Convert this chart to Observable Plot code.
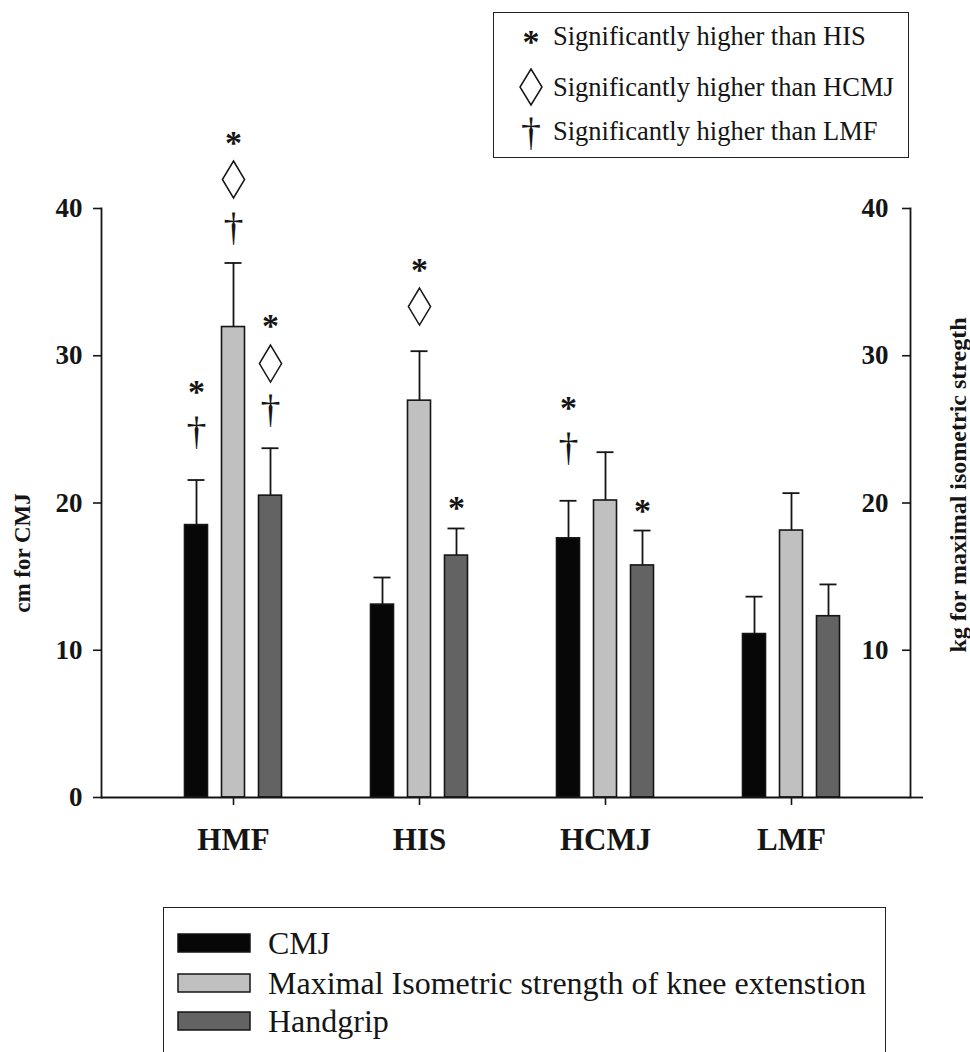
<!DOCTYPE html>
<html>
<head>
<meta charset="utf-8">
<script src="https://cdn.jsdelivr.net/npm/d3@7"></script>
<script src="https://cdn.jsdelivr.net/npm/@observablehq/plot@0.6"></script>
<style>
  body { margin: 0; background: #fff; }
  #wrap { position: relative; width: 970px; height: 1052px; overflow: hidden; background: #fff;
          font-family: "Liberation Serif", "Times New Roman", serif; color: #151515; }
  #chart { position: absolute; left: 0; top: 0; }
  .box { position: absolute; border: 1.5px solid #222; background: #fff; box-sizing: border-box; }
  .box svg { display: block; }
  .ytitle { position: absolute; white-space: nowrap; font-weight: bold; transform: translate(-50%, -50%) rotate(-90deg); line-height: 1; }
</style>
</head>
<body>
<div id="wrap">
  <div id="chart"></div>
  <div id="ltitle" class="ytitle" style="left:22px; top:553px; font-size:23px;"></div>
  <div id="rtitle" class="ytitle" style="left:958px; top:485px; font-size:24px;"></div>
  <div id="sig" class="box" style="left:493px; top:12px; width:416px; height:146px;"></div>
  <div id="leg" class="box" style="left:163px; top:907px; width:723px; height:170px;"></div>
</div>
<script>
// ---------- data ----------
const categories = ["HMF", "HIS", "HCMJ", "LMF"];
const seriesNames = ["CMJ", "Maximal Isometric strength of knee extenstion", "Handgrip"];
const seriesColors = ["#070707", "#c0c0c0", "#636363"];
const cmjMean  = [18.5, 13.1, 17.6, 11.1];
const cmjSE    = [3.06, 1.84, 2.55, 2.54];
const kneeMean = [31.95, 26.95, 20.17, 18.13];
const kneeSE   = [4.35, 3.36, 3.28, 2.54];
const gripMean = [20.5, 16.43, 15.76, 12.31];
const gripSE   = [3.22, 1.84, 2.37, 2.16];
const yTicksLeft = [0, 10, 20, 30, 40];
const yTicksRight = [10, 20, 30, 40];
const leftTitle = "cm for CMJ";
const rightTitle = "kg for maximal isometric stregth";

// significance markers: group, series index, kind, level (value units)
const sigGroup  = ["HMF","HMF","HMF","HMF","HMF","HMF","HMF","HMF","HIS","HIS","HIS","HCMJ","HCMJ","HCMJ"];
const sigSeries = [0, 0, 1, 1, 1, 2, 2, 2, 1, 1, 2, 0, 0, 2];
const sigKind   = ["star","dagger","star","diamond","dagger","star","diamond","dagger","star","diamond","star","star","dagger","star"];
const sigLevel  = [28.1, 24.8, 44.96, 41.97, 38.64, 32.53, 29.47, 26.28, 36.33, 33.34, 20.17, 26.96, 23.7, 19.97];
const sigKinds  = ["star", "diamond", "dagger"];
const sigLabels = ["Significantly higher than HIS", "Significantly higher than HCMJ", "Significantly higher than LMF"];

// ---------- build tables ----------
const means = [cmjMean, kneeMean, gripMean];
const ses = [cmjSE, kneeSE, gripSE];
const rows = [];
categories.forEach((g, i) => seriesNames.forEach((s, j) =>
  rows.push({group: g, s: j, mean: means[j][i], top: means[j][i] + ses[j][i]})));
const sig = sigGroup.map((g, k) => ({group: g, s: sigSeries[k], kind: sigKind[k], level: sigLevel[k]}));

const offs = [-37, 0, 37];
const step = 186, barW = 23, capW = 17;
const ink = "#151515";

const tallDiamond = {
  draw(ctx, size) {
    const r = Math.sqrt(size / Math.PI);
    ctx.moveTo(0, -r); ctx.lineTo(r * 0.6, 0); ctx.lineTo(0, r); ctx.lineTo(-r * 0.6, 0); ctx.closePath();
  }
};

const marks = [];
seriesNames.forEach((name, j) => {
  const d = rows.filter(r => r.s === j);
  marks.push(Plot.ruleX(d, {x: "group", y1: "mean", y2: "top", dx: offs[j], stroke: ink, strokeWidth: 1.8}));
  marks.push(Plot.tickY(d, {x: "group", y: "top", dx: offs[j], stroke: ink, strokeWidth: 1.8,
    insetLeft: (step - capW) / 2, insetRight: (step - capW) / 2}));
  marks.push(Plot.barY(d, {x: "group", y: "mean", dx: offs[j], fill: seriesColors[j], stroke: ink, strokeWidth: 1.6,
    insetLeft: (step - barW) / 2, insetRight: (step - barW) / 2}));
  const sg = sig.filter(q => q.s === j);
  marks.push(Plot.text(sg.filter(q => q.kind === "star"), {x: "group", y: "level", text: () => "*", dx: offs[j], dy: 8,
    fontSize: 34, fontWeight: "bold", fill: ink}));
  marks.push(Plot.text(sg.filter(q => q.kind === "dagger"), {x: "group", y: "level", text: () => "\u2020", dx: offs[j], dy: -1,
    fontSize: 40, fill: ink}));
  marks.push(Plot.dot(sg.filter(q => q.kind === "diamond"), {x: "group", y: "level", dx: offs[j], r: 18.5, symbol: tallDiamond,
    fill: "white", stroke: ink, strokeWidth: 1.5}));
});

const chart = Plot.plot({
  width: 970, height: 880,
  marginLeft: 101, marginRight: 60, marginTop: 208, marginBottom: 83,
  x: {type: "band", domain: categories, range: [140, 884], padding: 0},
  y: {domain: [0, 40]},
  style: {fontFamily: "'Liberation Serif', 'Times New Roman', serif", background: "white", color: ink, overflow: "visible"},
  marks: [
    Plot.frame({anchor: "left", stroke: ink, strokeWidth: 1.8}),
    Plot.frame({anchor: "right", stroke: ink, strokeWidth: 1.8}),
    Plot.axisY({anchor: "left", ticks: yTicksLeft, tickSize: 8, tickPadding: 11, label: null,
      fontSize: 27, fontWeight: "bold", strokeWidth: 1.6}),
    Plot.axisY({anchor: "left", dx: 809, ticks: yTicksRight, tickSize: 8, tickPadding: 14, label: null,
      fontSize: 27, fontWeight: "bold", strokeWidth: 1.6}),
    Plot.axisY({anchor: "right", ticks: [0], tickSize: 12, tickFormat: () => "", label: null, strokeWidth: 1.8}),
    Plot.axisX({tickSize: 8, tickPadding: 22, label: null, fontSize: 31, fontWeight: "bold", strokeWidth: 1.6}),
    ...marks,
    Plot.ruleY([0], {stroke: ink, strokeWidth: 2})
  ]
});
document.getElementById("chart").appendChild(chart);
document.getElementById("ltitle").textContent = leftTitle;
document.getElementById("rtitle").textContent = rightTitle;

// ---------- significance legend ----------
const NS = "http://www.w3.org/2000/svg";
function el(tag, attrs, parent) {
  const e = document.createElementNS(NS, tag);
  for (const k in attrs) e.setAttribute(k, attrs[k]);
  parent.appendChild(e);
  return e;
}
{
  const svg = el("svg", {width: 413, height: 143}, document.getElementById("sig"));
  const rowsY = [23, 74, 118];
  sigKinds.forEach((k, i) => {
    const cy = rowsY[i];
    if (k === "star") {
      const t = el("text", {x: 37, y: cy + 17, "text-anchor": "middle", "font-size": 34, "font-weight": "bold", fill: ink,
        "font-family": "Liberation Serif"}, svg);
      t.textContent = "*";
    } else if (k === "diamond") {
      el("path", {d: `M37,${cy - 18}L48,${cy}L37,${cy + 18}L26,${cy}Z`, fill: "white", stroke: ink, "stroke-width": 1.5}, svg);
    } else {
      const t = el("text", {x: 37, y: cy + 14, "text-anchor": "middle", "font-size": 40, fill: ink,
        "font-family": "Liberation Serif"}, svg);
      t.textContent = "\u2020";
    }
    const t = el("text", {x: 59, y: cy + 9, "font-size": 26.5, fill: ink, "font-family": "Liberation Serif"}, svg);
    t.textContent = sigLabels[i];
  });
}
// ---------- series legend ----------
{
  const svg = el("svg", {width: 720, height: 168}, document.getElementById("leg"));
  const rowsY = [35, 75, 113];
  seriesNames.forEach((name, i) => {
    el("rect", {x: 14, y: rowsY[i] - 9, width: 72, height: 18, fill: seriesColors[i], stroke: ink, "stroke-width": 1.5}, svg);
    const t = el("text", {x: 104, y: rowsY[i] + 11, "font-size": 32, fill: ink, "font-family": "Liberation Serif"}, svg);
    t.textContent = name;
  });
}
</script>
</body>
</html>
